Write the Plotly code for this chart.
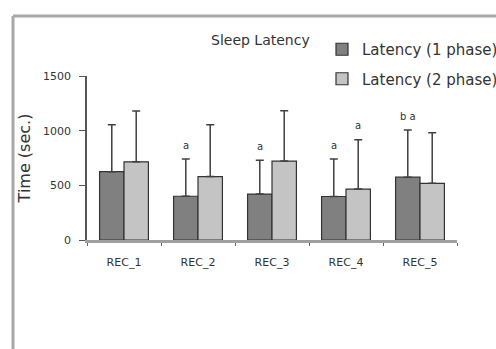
import plotly.graph_objects as go

categories = ["REC_1", "REC_2", "REC_3", "REC_4", "REC_5"]
phase1 = [625, 400, 420, 398, 575]
phase1_err = [430, 340, 310, 342, 430]
phase2 = [715, 580, 722, 466, 518]
phase2_err = [465, 475, 460, 450, 462]
marks1 = ["", "a", "a", "a", "b a"]
marks2 = ["", "", "", "a", ""]

FONT = "DejaVu Sans, Verdana, sans-serif"
TXT = "#333333"

fig = go.Figure()
fig.add_bar(x=categories, y=phase1, name="Latency (1 phase)",
            marker=dict(color="#808080", line=dict(color="#333333", width=1.2)),
            error_y=dict(type="data", array=phase1_err, symmetric=False, arrayminus=[0]*5,
                         color="#404040", thickness=1.5, width=4),
            legendgroup="g1")
fig.add_bar(x=categories, y=phase2, name="Latency (2 phase)",
            marker=dict(color="#c4c4c4", line=dict(color="#333333", width=1.2)),
            error_y=dict(type="data", array=phase2_err, symmetric=False, arrayminus=[0]*5,
                         color="#404040", thickness=1.5, width=4),
            legendgroup="g2")

for i, c in enumerate(categories):
    if marks1[i]:
        fig.add_annotation(x=c, y=phase1[i] + phase1_err[i], text=marks1[i], showarrow=False,
                           xshift=-12, yshift=14, font=dict(family=FONT, size=10, color=TXT))
    if marks2[i]:
        fig.add_annotation(x=c, y=phase2[i] + phase2_err[i], text=marks2[i], showarrow=False,
                           xshift=12, yshift=14, font=dict(family=FONT, size=10, color=TXT))

fig.add_annotation(xref="paper", yref="paper", x=(260 - 87) / 370, y=(240 - 40) / 164,
                   xanchor="center", yanchor="middle",
                   text="Sleep Latency", showarrow=False, font=dict(family=FONT, size=14, color=TXT))

# frame lines (cropped figure border)
fig.add_shape(type="line", xref="paper", yref="paper", x0=(13 - 87) / 370, x1=(500 - 87) / 370,
              y0=(240 - 16) / 164, y1=(240 - 16) / 164, line=dict(color="#a8a8a8", width=3))
fig.add_shape(type="line", xref="paper", yref="paper", x0=(13 - 87) / 370, x1=(13 - 87) / 370,
              y0=(240 - 16) / 164, y1=(240 - 360) / 164, line=dict(color="#a8a8a8", width=3))

fig.update_layout(
    width=496, height=349,
    margin=dict(l=87, r=39, t=76, b=109, autoexpand=False),
    paper_bgcolor="white", plot_bgcolor="white",
    font=dict(family=FONT, color=TXT),
    barmode="group", bargap=0.34, bargroupgap=0.0,
    showlegend=True,
    legend=dict(x=(322 - 87) / 370, y=(240 - 33) / 164, xanchor="left", yanchor="top",
                font=dict(family=FONT, size=15, color=TXT), traceorder="grouped", tracegroupgap=7,
                bgcolor="rgba(0,0,0,0)", itemwidth=30),
    xaxis=dict(showline=True, linecolor="#a0a0a0", linewidth=3, ticks="outside",
               tickson="boundaries", ticklen=3, tickcolor="#666666", ticklabelstandoff=10,
               tickfont=dict(family=FONT, size=11, color=TXT), showgrid=False, automargin=False),
    yaxis=dict(range=[0, 1500], tickvals=[0, 500, 1000, 1500], showline=True,
               linecolor="#555555", linewidth=1.5, ticks="outside", ticklen=6,
               tickcolor="#555555", tickfont=dict(family=FONT, size=11, color=TXT),
               ticklabelstandoff=6, showgrid=False, zeroline=False, automargin=False,
               title=dict(text="Time (sec.)", font=dict(family=FONT, size=16, color=TXT), standoff=8)),
)

fig.write_html("out.html", config={"displayModeBar": False},
               post_script="document.body.style.margin='0';document.body.style.overflow='hidden';")
